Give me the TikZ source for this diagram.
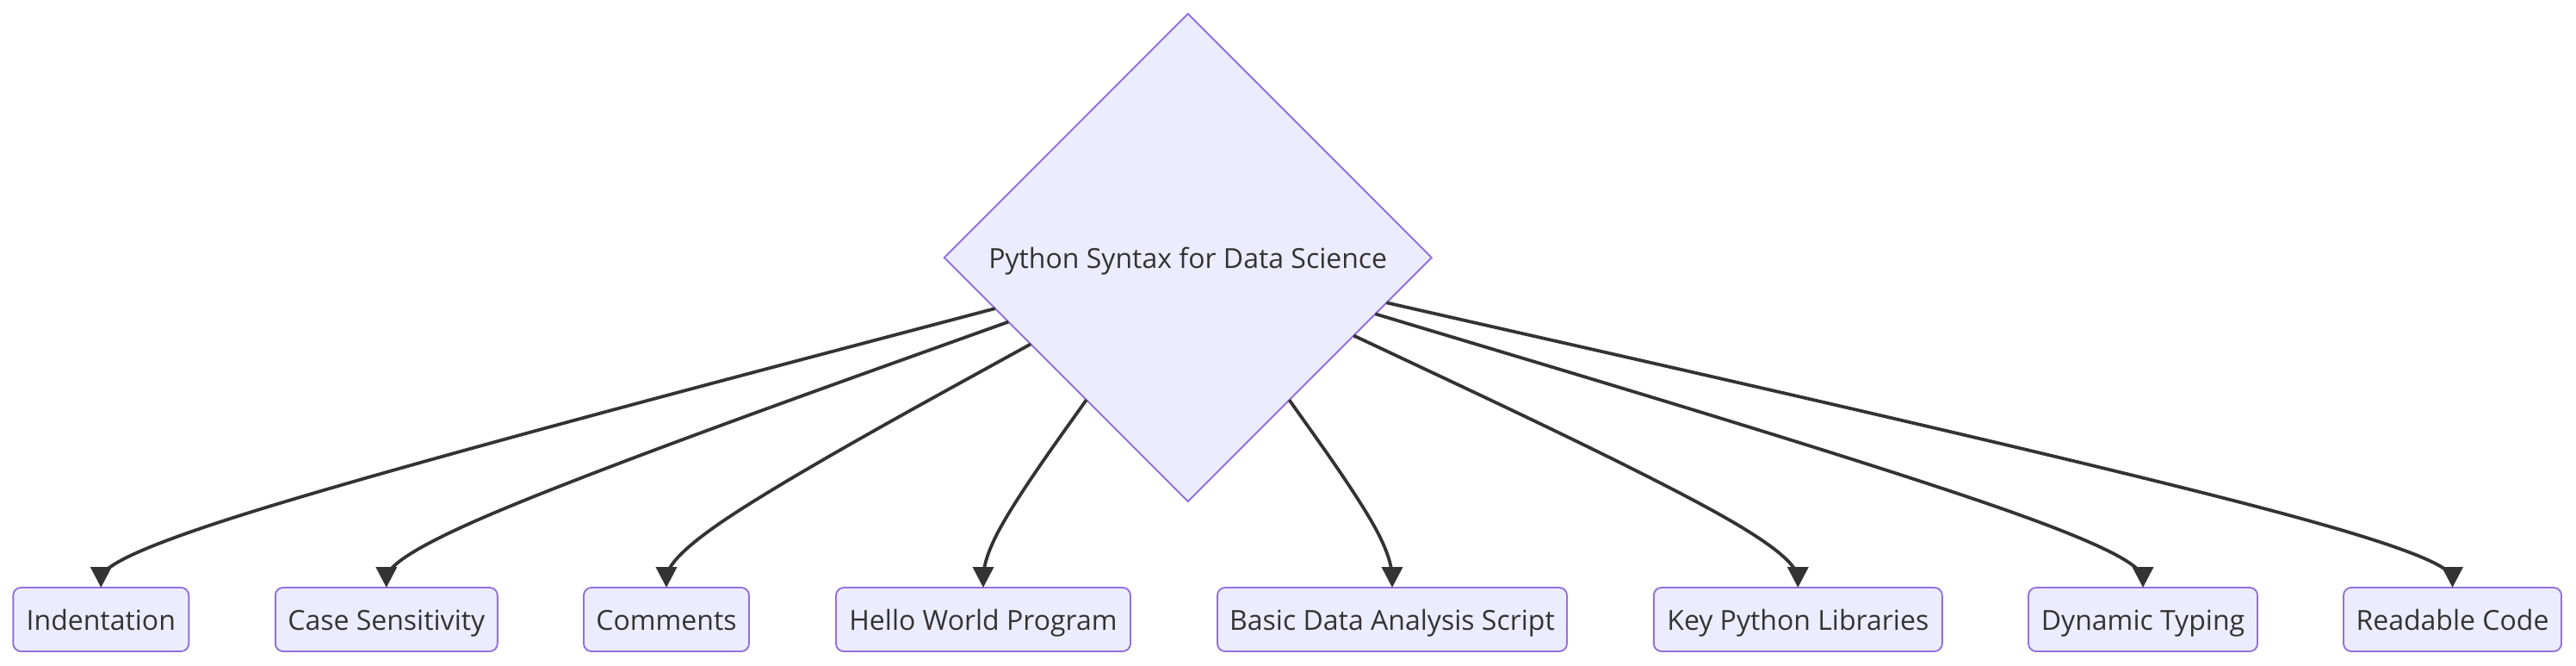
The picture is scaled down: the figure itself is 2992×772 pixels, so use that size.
\documentclass[tikz,border=0pt]{standalone}
\usepackage{fontspec}
\setmainfont{Open Sans}
\usetikzlibrary{shapes.geometric,arrows.meta,calc}
\definecolor{nodefill}{HTML}{ECECFF}
\definecolor{nodeline}{HTML}{9370DB}
\definecolor{ink}{HTML}{333333}
\tikzset{
  lbl/.style={font=\fontsize{32}{38}\selectfont, text=ink, text height=24pt, text depth=0pt},
  topic/.style={lbl, draw=nodeline, fill=nodefill, line width=1.9pt, rectangle,
    rounded corners=9pt, minimum height=74pt, inner sep=0pt, outer sep=0pt},
  hubshape/.style={lbl, draw=nodeline, fill=nodefill, line width=1.9pt, diamond,
    aspect=1, minimum width=566pt, minimum height=566pt, inner sep=0pt, outer sep=0pt},
  conn/.style={draw=ink, line width=3.8pt,
    -{Triangle[width=24pt,length=24pt]}}
}
\newcommand\basisedge[2]{%
  \coordinate (#2p) at ($(#1.north)+(0,-50)$);
  \path (hub) -- (#2p) coordinate[pos=0] (#2s);
  \draw[conn] (#2s) -- ($(#2s)!0.16667!(#2p)$)
    .. controls ($(#2s)!0.33333!(#2p)$) and ($(#2s)!0.66667!(#2p)$)
    .. ($0.16667*(#2s)+0.66667*(#2p)+0.16667*(#1.north)$)
    .. controls ($(#2p)!0.33333!(#1.north)$) and ($(#2p)!0.66667!(#1.north)$)
    .. ($(#2p)!0.83333!(#1.north)$) -- (#1.north);
}
\begin{document}
\begin{tikzpicture}[x=1pt,y=-1pt]
\useasboundingbox (0,0) rectangle (2992,772);
\node[hubshape] (hub) at (1379.7,299) {Python Syntax for Data Science};
\node[topic, minimum width=204pt] (b1) at (117.3,719) {Indentation};
\node[topic, minimum width=258pt] (b2) at (448.8,719) {Case Sensitivity};
\node[topic, minimum width=192pt] (b3) at (774,719) {Comments};
\node[topic, minimum width=342pt] (b4) at (1142,719) {Hello World Program};
\node[topic, minimum width=406pt] (b5) at (1617,719) {Basic Data Analysis Script};
\node[topic, minimum width=335pt] (b6) at (2088.3,719) {Key Python Libraries};
\node[topic, minimum width=266pt] (b7) at (2489,719) {Dynamic Typing};
\node[topic, minimum width=253pt] (b8) at (2848.5,719) {Readable Code};
\basisedge{b1}{ea}
\basisedge{b2}{eb}
\basisedge{b3}{ec}
\basisedge{b4}{ed}
\basisedge{b5}{ee}
\basisedge{b6}{ef}
\basisedge{b7}{eg}
\basisedge{b8}{eh}
\end{tikzpicture}
\end{document}
